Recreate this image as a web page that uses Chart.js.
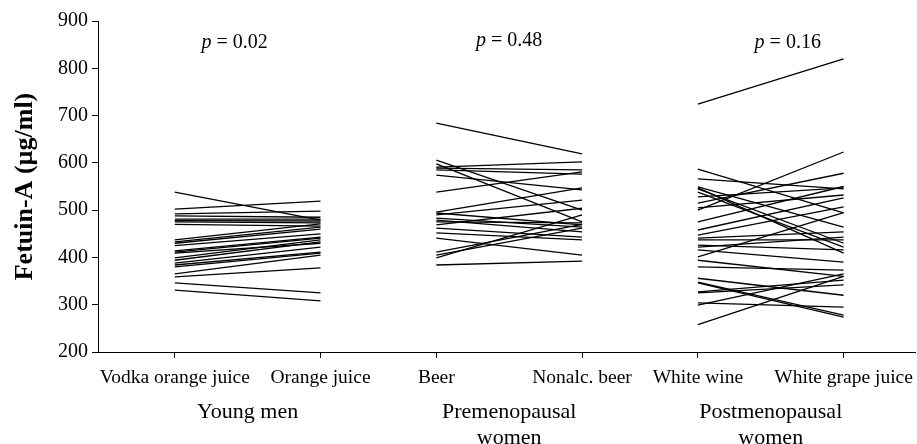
<!DOCTYPE html>
<html>
<head>
<meta charset="utf-8">
<script src="https://cdn.jsdelivr.net/npm/chart.js@4"></script>
<style>
html,body{margin:0;padding:0;background:#fff;}
#wrap{width:917px;height:444px;position:relative;}
</style>
</head>
<body>
<div id="wrap"><canvas id="c" width="917" height="444"></canvas></div>
<script>
// ---- data ----
const xTickLabels = ['Vodka orange juice', 'Orange juice', 'Beer', 'Nonalc. beer', 'White wine', 'White grape juice'];
const groupLabels = [['Young men'], ['Premenopausal', 'women'], ['Postmenopausal', 'women']];
const pValues = ['0.02', '0.48', '0.16'];
const yTicks = [200, 300, 400, 500, 600, 700, 800, 900];

const youngMenBefore = [538, 502, 492, 488, 481, 478, 475, 470, 437, 433, 430, 425, 414, 411, 409, 399, 394, 388, 384, 380, 365, 359, 346, 331];
const youngMenAfter  = [479, 519, 498, 485, 481, 477, 473, 466, 471, 464, 460, 450, 443, 441, 430, 437, 433, 422, 411, 409, 405, 378, 325, 308];

const premenoBefore = [684, 606, 598, 591, 589, 585, 574, 538, 496, 494, 490, 483, 479, 475, 469, 462, 452, 441, 411, 405, 399, 384];
const premenoAfter  = [619, 500, 475, 602, 585, 576, 543, 581, 547, 469, 521, 464, 454, 473, 504, 443, 437, 405, 470, 462, 490, 392];

const postmenoBefore = [724, 587, 566, 549, 547, 545, 538, 528, 515, 505, 500, 475, 458, 447, 441, 437, 426, 422, 416, 401, 394, 380, 356, 348, 346, 327, 325, 304, 299, 258];
const postmenoAfter  = [820, 494, 545, 464, 409, 430, 422, 547, 578, 532, 623, 550, 526, 507, 454, 437, 416, 443, 390, 495, 360, 373, 320, 278, 274, 352, 342, 295, 365, 360];

// ---- layout helpers ----
const GAP = 0.795;
const pos = (g, k) => g * (1 + GAP) + k;
const tickPos = [pos(0,0), pos(0,1), pos(1,0), pos(1,1), pos(2,0), pos(2,1)];
const groupPos = [pos(0,0.5), pos(1,0.5), pos(2,0.5)];
const X_MIN = -0.527, X_MAX = 5.08;

const groups = [
  [youngMenBefore, youngMenAfter],
  [premenoBefore, premenoAfter],
  [postmenoBefore, postmenoAfter]
];
const datasets = [];
groups.forEach(([b, a], g) => {
  b.forEach((v, i) => {
    datasets.push({
      data: [{x: pos(g,0), y: v}, {x: pos(g,1), y: a[i]}],
      borderColor: '#000', borderWidth: 1.3, pointRadius: 0, fill: false, tension: 0
    });
  });
});

const SERIF = '"Liberation Serif", "Times New Roman", serif';
Chart.defaults.color = '#000';
Chart.defaults.font.family = SERIF;

const pPlugin = {
  id: 'pvals',
  afterDraw(chart) {
    const ctx = chart.ctx;
    const xs = chart.scales.x, ys = chart.scales.y;
    const offs = [-13, 0, 17];
    ctx.save();
    ctx.fillStyle = '#000';
    ctx.textBaseline = 'middle';
    pValues.forEach((p, i) => {
      const cx = xs.getPixelForValue(groupPos[i]) + offs[i];
      const cy = ys.getPixelForValue(855) - (i === 1 ? 2 : 0);
      ctx.font = 'italic 20px ' + SERIF;
      const w1 = ctx.measureText('p').width;
      ctx.font = '20px ' + SERIF;
      const rest = ' = ' + p;
      const w2 = ctx.measureText(rest).width;
      let x0 = cx - (w1 + w2) / 2;
      ctx.textAlign = 'left';
      ctx.font = 'italic 20px ' + SERIF;
      ctx.fillText('p', x0, cy);
      ctx.font = '20px ' + SERIF;
      ctx.fillText(rest, x0 + w1, cy);
    });
    ctx.restore();
  }
};

const noSidePad = s => { s.paddingLeft = 0; s.paddingRight = 0; };

new Chart(document.getElementById('c'), {
  type: 'line',
  data: { datasets },
  plugins: [pPlugin],
  options: {
    responsive: false,
    animation: false,
    layout: { padding: { left: 0, right: 2, top: 21, bottom: 0 } },
    plugins: { legend: { display: false }, tooltip: { enabled: false } },
    scales: {
      x: {
        type: 'linear', position: 'bottom', weight: 0,
        min: X_MIN, max: X_MAX,
        afterBuildTicks: s => { s.ticks = tickPos.map(v => ({ value: v })); },
        afterFit: s => { s.height = 38; noSidePad(s); },
        ticks: {
          autoSkip: false, maxRotation: 0, minRotation: 0, padding: 8,
          font: { size: 19.5, family: SERIF },
          callback: (v, i) => xTickLabels[i]
        },
        grid: { display: true, drawOnChartArea: false, drawTicks: true, tickLength: 6, color: '#000', lineWidth: 1 },
        border: { display: true, color: '#000', width: 1 }
      },
      xg: {
        type: 'linear', position: 'bottom', weight: 1,
        min: X_MIN, max: X_MAX,
        afterBuildTicks: s => { s.ticks = groupPos.map(v => ({ value: v })); },
        afterFit: s => { s.height = 54; noSidePad(s); },
        ticks: {
          autoSkip: false, maxRotation: 0, minRotation: 0, padding: 2,
          font: { size: 22, family: SERIF, lineHeight: 1.15 },
          callback: (v, i) => groupLabels[i]
        },
        grid: { display: false },
        border: { display: false }
      },
      y: {
        type: 'linear', min: 200, max: 900,
        afterBuildTicks: s => { s.ticks = yTicks.map(v => ({ value: v })); },
        afterFit: s => { s.width = 98; },
        ticks: { padding: 4, font: { size: 20, family: SERIF } },
        grid: { display: true, drawOnChartArea: false, drawTicks: true, tickLength: 6, color: '#000', lineWidth: 1 },
        border: { display: true, color: '#000', width: 1 },
        title: {
          display: true, text: 'Fetuin-A (µg/ml)',
          font: { size: 26, weight: 'bold', family: SERIF },
          padding: { top: 10, bottom: 0 }
        }
      }
    }
  }
});
</script>
</body>
</html>
